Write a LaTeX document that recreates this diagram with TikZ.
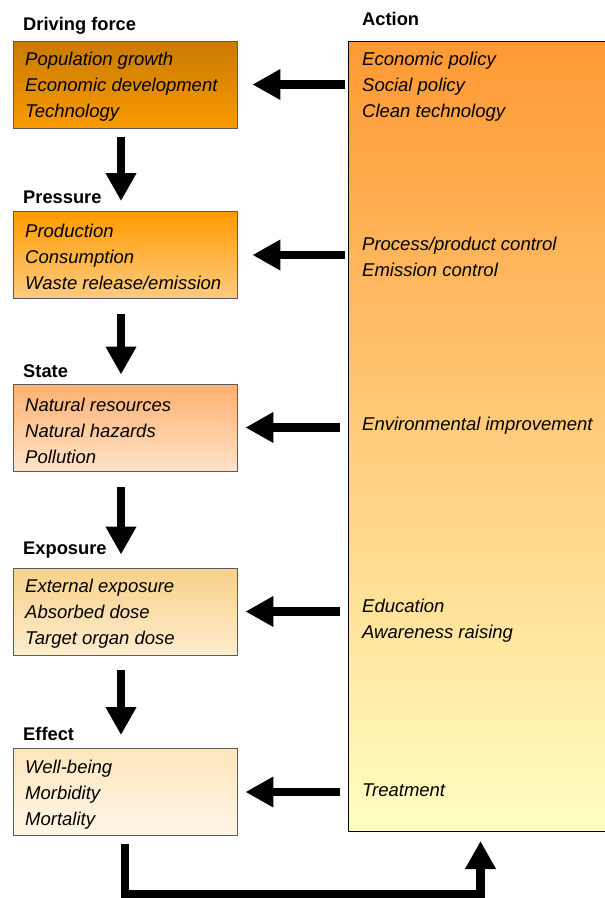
\documentclass[tikz,border=0pt]{standalone}
\usepackage{fontspec}
\setmainfont{Liberation Sans}
\usetikzlibrary{arrows.meta}
\definecolor{aTop}{HTML}{FF9933}
\definecolor{aBot}{HTML}{FFFFC2}
\definecolor{bOneT}{HTML}{C87A00}
\definecolor{bOneB}{HTML}{FA9A00}
\definecolor{bTwoT}{HTML}{FF9A00}
\definecolor{bTwoB}{HTML}{FFCC80}
\definecolor{bThrT}{HTML}{FFB070}
\definecolor{bThrB}{HTML}{FFE3C8}
\definecolor{bFouT}{HTML}{F8D08A}
\definecolor{bFouB}{HTML}{FDEDCD}
\definecolor{bFivT}{HTML}{FDE6BC}
\definecolor{bFivB}{HTML}{FFF6E6}
\definecolor{edgegray}{HTML}{5A5A5A}
\begin{document}
\begin{tikzpicture}[x=1pt,y=-1pt,
  lbox/.style={draw=edgegray, line width=0.9pt, minimum width=224pt, minimum height=87pt, inner sep=0pt},
  actbox/.style={draw=black, line width=1pt, minimum width=262pt, minimum height=790pt, inner sep=0pt, anchor=north west, top color=aTop, bottom color=aBot},
  itemtext/.style={anchor=west, align=left, inner sep=0pt, font=\fontsize{18.5}{26}\selectfont\itshape},
  titletext/.style={anchor=west, inner sep=0pt, font=\fontsize{18.3}{21}\selectfont\bfseries},
  bigarrow/.style={line width=8.5pt, line join=miter, -{Triangle[length=28pt,width=29pt]}}
]
\useasboundingbox (0,0) rectangle (605,898);

% action column
\node[actbox] (act) at (348,41) {};
\node[titletext] (actT) at (362,19) {Action};
\node[itemtext] (a1) at (362,87) {Economic policy\\Social policy\\Clean technology};
\node[itemtext] (a2) at (362,256.5) {Process/product control\\Emission control};
\node[itemtext] (a3) at (362,426) {Environmental improvement};
\node[itemtext] (a4) at (362,621) {Education\\Awareness raising};
\node[itemtext] (a5) at (362,790) {Treatment};

% left column boxes
\node[lbox, top color=bOneT, bottom color=bOneB] (d1) at (125,84.5) {};
\node[lbox, top color=bTwoT, bottom color=bTwoB] (d2) at (125,255) {};
\node[lbox, top color=bThrT, bottom color=bThrB] (d3) at (125,427.5) {};
\node[lbox, top color=bFouT, bottom color=bFouB] (d4) at (125,611.5) {};
\node[lbox, top color=bFivT, bottom color=bFivB] (d5) at (125,792) {};

\node[titletext] (h1) at (23,26) {Driving force};
\node[titletext] (h2) at (23,197) {Pressure};
\node[titletext] (h3) at (23,371) {State};
\node[titletext] (h4) at (23,550) {Exposure};
\node[titletext] (h5) at (23,734) {Effect};

\node[itemtext] (t1) at (25,87) {Population growth\\Economic development\\Technology};
\node[itemtext] (t2) at (25,257) {Production\\Consumption\\Waste release/emission};
\node[itemtext] (t3) at (25,431) {Natural resources\\Natural hazards\\Pollution};
\node[itemtext] (t4) at (25,614) {External exposure\\Absorbed dose\\Target organ dose};
\node[itemtext] (t5) at (25,795) {Well-being\\Morbidity\\Mortality};

% horizontal arrows from action to boxes
\draw[bigarrow] ([xshift=-3pt]act.west |- d1.east) -- ([xshift=15pt]d1.east);
\draw[bigarrow] ([xshift=-3pt]act.west |- d2.east) -- ([xshift=15pt]d2.east);
\draw[bigarrow] ([xshift=-8pt]act.west |- d3.east) -- ([xshift=8pt]d3.east);
\draw[bigarrow] ([xshift=-8pt]act.west |- d4.east) -- ([xshift=8pt]d4.east);
\draw[bigarrow] ([xshift=-8pt]act.west |- d5.east) -- ([xshift=8pt]d5.east);

% vertical arrows between boxes
\draw[bigarrow] ([xshift=-4pt,yshift=-9pt]d1.south) -- ([xshift=-4pt,yshift=10pt]d2.north);
\draw[bigarrow] ([xshift=-4pt,yshift=-15pt]d2.south) -- ([xshift=-4pt,yshift=9pt]d3.north);
\draw[bigarrow] ([xshift=-4pt,yshift=-16pt]d3.south) -- ([xshift=-4pt,yshift=13pt]d4.north);
\draw[bigarrow] ([xshift=-4pt,yshift=-15pt]d4.south) -- ([xshift=-4pt,yshift=13pt]d5.north);

% feedback loop from effect to action
\coordinate (loopc) at (480.5,894);
\draw[bigarrow] ([yshift=-8pt]d5.south) |- (loopc) -- ([yshift=-9pt]act.south -| loopc);
\end{tikzpicture}
\end{document}
